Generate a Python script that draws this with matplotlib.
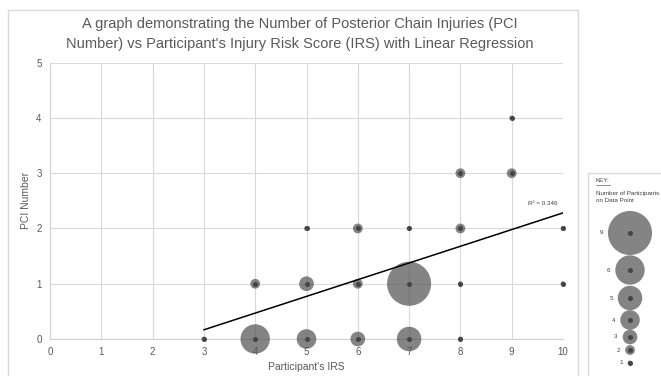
import matplotlib
matplotlib.use("Agg")
import matplotlib.pyplot as plt
import numpy as np
from matplotlib.patches import Rectangle

plt.rcParams['font.family'] = ['Liberation Sans', 'DejaVu Sans']

# Data: (IRS, PCI number, number of participants on that point)
irs = [3, 4, 5, 6, 7, 8, 4, 5, 6, 7, 8, 10, 5, 6, 7, 8, 10, 8, 9, 9]
pci = [0, 0, 0, 0, 0, 0, 1, 1, 1, 1, 1, 1, 2, 2, 2, 2, 2, 3, 3, 4]
participants = [1, 6, 4, 3, 5, 1, 2, 3, 2, 9, 1, 1, 1, 2, 1, 2, 1, 2, 2, 1]

key_values = [9, 6, 5, 4, 3, 2, 1]
r2_label = "R² = 0.346"

title = ("A graph demonstrating the Number of Posterior Chain Injuries (PCI\n"
         "Number) vs Participant's Injury Risk Score (IRS) with Linear Regression")
xlabel = "Participant's IRS"
ylabel = "PCI Number"

W, H = 661, 376
fig = plt.figure(figsize=(W / 100, H / 100), dpi=100)

def px(x):
    return x / W

def py(y):
    return 1 - y / H

# chart border
fig.patches.append(Rectangle((px(8), py(380)), px(578 - 8), py(10) - py(380),
                             transform=fig.transFigure, fill=False,
                             edgecolor='#d9d9d9', linewidth=1.0))
# key border
fig.patches.append(Rectangle((px(588), py(380)), px(670 - 588), py(173) - py(380),
                             transform=fig.transFigure, fill=False,
                             edgecolor='#d9d9d9', linewidth=1.0))

ax = fig.add_axes([px(50), py(339), px(563 - 50), py(62.7) - py(339)])
ax.set_xlim(0, 10)
ax.set_ylim(0, 5)
ax.set_xticks(range(0, 11))
ax.set_yticks(range(0, 6))
ax.grid(True, color='#d9d9d9', linewidth=0.8)
ax.set_axisbelow(True)
for s in ['top', 'right']:
    ax.spines[s].set_visible(False)
for s in ['left', 'bottom']:
    ax.spines[s].set_color('#d0d0d0')
    ax.spines[s].set_linewidth(0.8)
ax.tick_params(length=0, labelsize=7, labelcolor='#595959', pad=6)

def bubble_s(v):
    d_pt = 4.9 * v * 0.72
    return d_pt ** 2

sizes = [bubble_s(v) for v in participants]
ax.scatter(irs, pci, s=sizes, color='#555555', alpha=0.72, linewidths=0,
           zorder=3, clip_on=False)
ax.scatter(irs, pci, s=13, color='#444444', linewidths=0, zorder=4, clip_on=False)

coef = np.polyfit(irs, pci, 1)
xl = np.array([min(irs), max(irs)])
ax.plot(xl, np.polyval(coef, xl), color='black', linewidth=1.1, zorder=5)
ax.text(9.9, np.polyval(coef, 10) + 0.12, r2_label, fontsize=4.5, color='#404040',
        ha='right', va='bottom')

ax.set_xlabel(xlabel, fontsize=7.5, color='#595959', labelpad=3)
ax.set_ylabel(ylabel, fontsize=7.5, color='#595959', labelpad=4)

fig.text(px(300), py(34), title, ha='center', va='center', fontsize=10.5,
         color='#595959', linespacing=1.5)

# Key
kax = fig.add_axes([px(588), 0, px(W - 588), py(173)])
kax.set_xlim(588, W)
kax.set_ylim(376, 173)
kax.axis('off')
kax.text(596, 181, "KEY:", fontsize=4.5, color='#404040', va='center', ha='left')
kax.plot([596, 610], [184.5, 184.5], color='#404040', linewidth=0.4)
kax.text(596, 197, "Number of Participants\non Data Point", fontsize=4.5,
         color='#404040', va='center', ha='left', linespacing=1.3)
key_y = [233, 270, 298, 320, 337, 350, 363]
kx = [630] * len(key_values)
kax.scatter(kx, key_y, s=[bubble_s(v) for v in key_values], color='#555555',
            alpha=0.72, linewidths=0, clip_on=False)
kax.scatter(kx, key_y, s=13, color='#444444', linewidths=0, clip_on=False)
for v, y in zip(key_values, key_y):
    r = 2.45 * v
    kax.text(630 - r - 5, y, str(v), fontsize=4.5, color='#404040',
             ha='right', va='center')

fig.savefig("out.png", dpi=100)
